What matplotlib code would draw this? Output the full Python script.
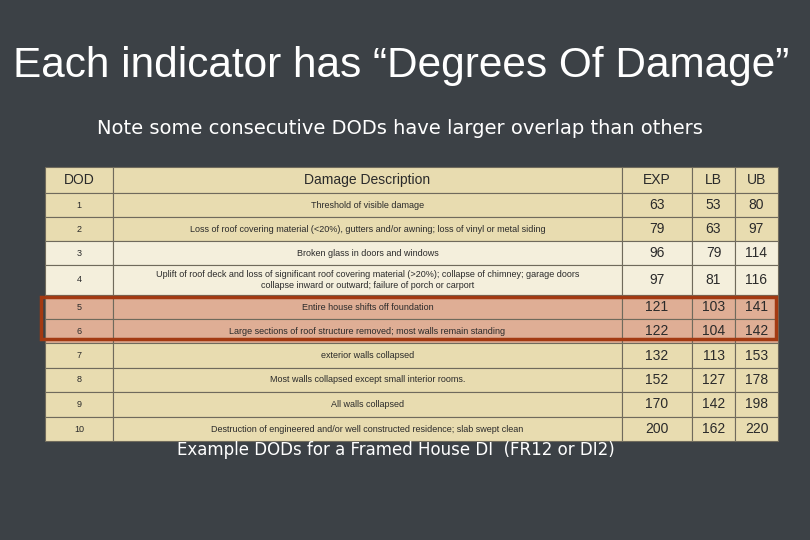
import matplotlib.pyplot as plt
from matplotlib.patches import Rectangle

dod = ['1', '2', '3', '4', '5', '6', '7', '8', '9', '10']
descriptions = [
    'Threshold of visible damage',
    'Loss of roof covering material (<20%), gutters and/or awning; loss of vinyl or metal siding',
    'Broken glass in doors and windows',
    'Uplift of roof deck and loss of significant roof covering material (>20%); collapse of chimney; garage doors\ncollapse inward or outward; failure of porch or carport',
    'Entire house shifts off foundation',
    'Large sections of roof structure removed; most walls remain standing',
    'exterior walls collapsed',
    'Most walls collapsed except small interior rooms.',
    'All walls collapsed',
    'Destruction of engineered and/or well constructed residence; slab swept clean',
]
exp_vals = [63, 79, 96, 97, 121, 122, 132, 152, 170, 200]
lb_vals = [53, 63, 79, 81, 103, 104, 113, 127, 142, 162]
ub_vals = [80, 97, 114, 116, 141, 142, 153, 178, 198, 220]
headers = ['DOD', 'Damage Description', 'EXP', 'LB', 'UB']

fig = plt.figure(figsize=(8.1, 5.4), dpi=100)
fig.patch.set_facecolor('#3c4146')
ax = fig.add_axes([0, 0, 1, 1])
ax.set_xlim(0, 810)
ax.set_ylim(540, 0)
ax.axis('off')

ax.text(401, 66, 'Each indicator has \u201cDegrees Of Damage\u201d', color='white',
        fontsize=30.5, family='Liberation Sans', ha='center', va='center')
ax.text(400, 129, 'Note some consecutive DODs have larger overlap than others', color='white',
        fontsize=14, family='DejaVu Sans', ha='center', va='center')

# table geometry
col_x = [45, 113, 622, 692, 735, 778]
row_y = [167, 193, 217, 241, 265, 295, 319, 343, 368, 392, 417, 441]
tan = '#e8dcb0'
cream = '#f4efdc'
salmon = '#dfae95'
fills = [tan, tan, tan, cream, cream, salmon, salmon, tan, tan, tan, tan]

for r in range(11):
    for c in range(5):
        ax.add_patch(Rectangle((col_x[c], row_y[r]), col_x[c + 1] - col_x[c],
                               row_y[r + 1] - row_y[r], facecolor=fills[r],
                               edgecolor='#6f6a5c', lw=0.8))

def cell_text(r, c, s, size):
    xc = (col_x[c] + col_x[c + 1]) / 2
    yc = (row_y[r] + row_y[r + 1]) / 2
    ax.text(xc, yc, s, ha='center', va='center', fontsize=size, color='#2a2a2a',
            family='Liberation Sans', linespacing=1.3)

for c, h in enumerate(headers):
    cell_text(0, c, h, 10)
for i in range(10):
    cell_text(i + 1, 0, dod[i], 6.5)
    cell_text(i + 1, 1, descriptions[i], 6.5)
    cell_text(i + 1, 2, str(exp_vals[i]), 10)
    cell_text(i + 1, 3, str(lb_vals[i]), 10)
    cell_text(i + 1, 4, str(ub_vals[i]), 10)

# highlight box around DOD 5 and 6
ax.add_patch(Rectangle((41, 297), 735, 42, facecolor='none', edgecolor='#a33a12', lw=2.5))

ax.text(396, 450, 'Example DODs for a Framed House DI  (FR12 or DI2)', color='white',
        fontsize=12, family='DejaVu Sans', ha='center', va='center')

fig.savefig('out.png', dpi=100, facecolor=fig.get_facecolor())
